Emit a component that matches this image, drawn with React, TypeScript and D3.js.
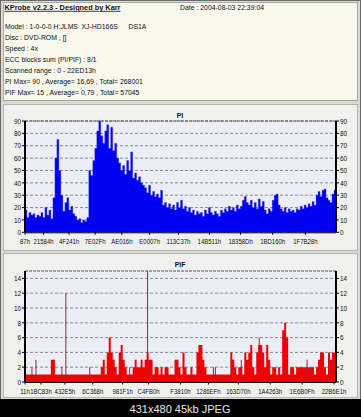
import React from "react";
import * as d3 from "d3";

// ---------- DATA ----------
const titleText = "KProbe v2.2.3 - Designed by Karr";
const dateText = "Date : 2004-08-03 22:39:04";
const modelParts = ["Model : 1-0-0-0 H:JLMS", "XJ-HD166S", "DS1A"];
const infoLines = [
  "Disc : DVD-ROM , []",
  "Speed : 4x",
  "ECC blocks sum (PI/PIF) : 8/1",
  "Scanned range : 0 - 22ED13h",
  "PI Max= 90 , Average= 16,69 , Total= 268001",
  "PIF Max= 15 , Average= 0,79 , Total= 57045",
];
const caption = "431x480 45kb JPEG";

const piValues = [
  18, 12, 16, 14, 15, 12, 14, 13, 16, 12, 20, 14, 18, 11, 28, 60, 75, 50, 30, 17,
  24, 28, 18, 21, 15, 13, 10, 11, 8, 10, 9, 12, 50, 46, 58, 68, 82, 90, 78, 72,
  82, 87, 68, 85, 66, 72, 60, 56, 50, 54, 47, 58, 50, 65, 44, 48, 42, 45, 40, 38,
  36, 32, 38, 30, 33, 29, 31, 28, 34, 22, 24, 20, 23, 19, 22, 18, 24, 20, 26, 19,
  21, 17, 20, 16, 18, 14, 17, 15, 16, 13, 18, 15, 20, 16, 14, 17, 15, 13, 18, 16,
  19, 17, 21, 18, 20, 17, 22, 19, 21, 26, 29, 24, 22, 26, 20, 24, 19, 27, 21, 25,
  18, 15, 19, 17, 26, 30, 31, 22, 19, 17, 20, 16, 19, 17, 18, 16, 19, 18, 21, 19,
  22, 20, 23, 21, 25, 22, 30, 33, 29, 34, 35, 28, 26, 24, 31, 34,
];

const pifValues = [
  1, 1, 1, 1, 1, 1, 1, 1, 1, 1, 1, 1, 1, 3, 3, 1, 1, 1, 1, 1,
  1, 1, 1, 1, 1, 1, 1, 1, 1, 1, 1, 1, 1, 1, 1, 1, 1, 1, 2, 3,
  1, 4, 6, 4, 3, 2, 1, 4, 5, 3, 2, 1, 1, 1, 2, 3, 2, 2, 3, 2,
  3, 4, 3, 3, 1, 2, 2, 1, 2, 1, 2, 2, 1, 1, 1, 3, 3, 2, 1, 4,
  2, 1, 1, 2, 1, 1, 4, 5, 5, 3, 2, 1, 1, 1, 1, 1, 1, 1, 1, 1,
  1, 1, 1, 4, 3, 2, 1, 2, 2, 1, 4, 3, 4, 5, 2, 1, 4, 5, 5, 4,
  2, 5, 3, 1, 2, 2, 1, 2, 1, 7, 8, 6, 1, 2, 2, 1, 2, 2, 2, 2,
  2, 2, 2, 2, 2, 1, 2, 3, 4, 4, 2, 1, 4, 3, 4, 4,
];

const pifSpikeIdx = [3, 5, 18, 20, 32, 52, 61, 94, 95, 108, 117, 141];
const pifSpikeVal = [2, 3, 2, 12, 2, 2, 15, 2, 2, 3, 6, 3];

const scanEnd = 0x22ed13;
const piTickLabels = ["87h", "21584h", "4F241h", "7E02Fh", "AE016h", "E0007h", "113C37h", "14B511h", "18358Dh", "1BD160h", "1F7B28h"];
const piTickAddr = [0x87, 0x21584, 0x4f241, 0x7e02f, 0xae016, 0xe0007, 0x113c37, 0x14b511, 0x18358d, 0x1bd160, 0x1f7b28];
const pifTickLabels = ["11h", "1BC83h", "432E5h", "6C368h", "981F1h", "C4FB0h", "F3810h", "1286EFh", "163D70h", "1A4263h", "1E6B0Fh", "22B6E1h"];
const pifTickIdx = [0, 8, 20, 34, 49, 62, 78, 92, 107, 123, 139, 155];
const piYTicks = [0, 10, 20, 30, 40, 50, 60, 70, 80, 90];
const pifYTicks = [0, 2, 4, 6, 8, 10, 12, 14];

// ---------- LAYOUT ----------
const W = 361;
const H = 417;
const FONT = "'Liberation Sans', Arial, sans-serif";
const PL = 25;
const PR = 336;

function T({ x, y, sx = 0.86, size = 8, anchor = "start", bold = false, underline = false, fill = "#111", children }: any) {
  return (
    <text
      transform={`translate(${x},${y}) scale(${sx},1)`}
      textAnchor={anchor}
      fontSize={size}
      fontWeight={bold ? "bold" : "normal"}
      textDecoration={underline ? "underline" : undefined}
      fontFamily={FONT}
      fill={fill}
    >
      {children}
    </text>
  );
}

function Axes({ y, ticks, top, bottom }: any) {
  return (
    <g>
      {ticks.filter((t: number) => t > 0).map((t: number) => (
        <line key={"g" + t} x1={PL} x2={PR} y1={y(t)} y2={y(t)} stroke="#8a8a8a" strokeWidth={1} strokeDasharray="3,2" />
      ))}
      <line x1={PL} x2={PR} y1={top} y2={top} stroke="#555" strokeWidth={1} strokeDasharray="3,1" />
      {ticks.map((t: number) => (
        <g key={"t" + t}>
          <line x1={PL - 3} x2={PL} y1={y(t)} y2={y(t)} stroke="#000" />
          <line x1={PR} x2={PR + 3} y1={y(t)} y2={y(t)} stroke="#000" />
          <T x={PL - 4} y={y(t) + 2.7} size={7.5} sx={0.85} anchor="end">{t}</T>
          <T x={PR + 4} y={y(t) + 2.7} size={7.5} sx={0.85} anchor="start">{t}</T>
        </g>
      ))}
    </g>
  );
}

export default function App() {
  const piTop = 121;
  const piBottom = 232.3;
  const piY = d3.scaleLinear().domain([0, 90]).range([piBottom, piTop]);
  const piX = d3.scaleLinear().domain([0, piValues.length]).range([PL, PR]);
  const piAddr = d3.scaleLinear().domain([0, scanEnd]).range([PL, PR]);

  const pifTop = 271;
  const pifBottom = 382;
  const pifY = d3.scaleLinear().domain([0, 15]).range([pifBottom, pifTop]);
  const pifX = d3.scaleLinear().domain([0, pifValues.length]).range([PL, PR]);

  const piArea = d3
    .area<number>()
    .x((_, i) => piX(i))
    .y0(piBottom)
    .y1((d) => piY(d))
    .curve(d3.curveStepAfter);
  const piPts = [...piValues, piValues[piValues.length - 1]];

  const pifArea = d3
    .area<number>()
    .x((_, i) => pifX(i))
    .y0(pifBottom)
    .y1((d) => pifY(d))
    .curve(d3.curveStepAfter);
  const pifPts = [...pifValues, pifValues[pifValues.length - 1]];

  const lineGap = 10.95;

  return (
    <div style={{ position: "absolute", left: 0, top: 0 }}>
      <svg width={W} height={H} style={{ display: "block" }}>
        <rect x={0} y={0} width={W} height={H} fill="#d9d9d6" />
        <rect x={0.5} y={0.5} width={W - 1} height={H - 1} fill="none" stroke="#6a6a6a" />
        {/* Header panel */}
        <rect x={3.5} y={2.5} width={354} height={98} fill="#f8f8ec" stroke="#a8a8a0" />
        <T x={4.5} y={9.8} bold underline sx={0.92}>{titleText}</T>
        <T x={180} y={9.8}>{dateText}</T>
        <T x={5} y={29.4}>{modelParts[0]}</T>
        <T x={81.5} y={29.4}>{modelParts[1]}</T>
        <T x={128.5} y={29.4}>{modelParts[2]}</T>
        {infoLines.map((l, i) => (
          <T key={l} x={5} y={29.4 + (i + 1) * lineGap}>{l}</T>
        ))}

        {/* PI panel */}
        <rect x={3.5} y={104.5} width={354} height={146} fill="#f0f0ee" stroke="#b4b4b0" />
        <T x={180} y={117.5} anchor="middle" bold>PI</T>
        <rect x={PL} y={piTop} width={PR - PL} height={piBottom - piTop} fill="#ededf8" />
        <Axes y={piY} ticks={piYTicks} top={piTop} bottom={piBottom} />
        <path d={piArea(piPts) || ""} fill="#0000f2" stroke="#4a4ad8" strokeWidth={0.4} />
        <line x1={PL} x2={PL} y1={piTop} y2={piBottom} stroke="#000" strokeWidth={2} />
        <line x1={PR} x2={PR} y1={piTop} y2={piBottom} stroke="#000" strokeWidth={2} />
        <line x1={PL} x2={PR} y1={piBottom + 0.5} y2={piBottom + 0.5} stroke="#000" />
        {piTickAddr.map((a, i) => (
          <g key={piTickLabels[i]}>
            <line x1={piAddr(a)} x2={piAddr(a)} y1={piBottom} y2={piBottom + 2.5} stroke="#000" />
            <T x={piAddr(a)} y={244} anchor="middle" size={7.5} sx={0.8}>{piTickLabels[i]}</T>
          </g>
        ))}

        {/* PIF panel */}
        <rect x={3.5} y={253.5} width={354} height={144} fill="#f0f0ee" stroke="#b4b4b0" />
        <T x={180} y={267} anchor="middle" bold>PIF</T>
        <rect x={PL} y={pifTop} width={PR - PL} height={pifBottom - pifTop} fill="#ededf8" />
        <Axes y={pifY} ticks={pifYTicks} top={pifTop} bottom={pifBottom} />
        <path d={pifArea(pifPts) || ""} fill="#f00000" />
        {pifSpikeIdx.map((s, k) => (
          <line key={"s" + k} x1={pifX(s + 0.5)} x2={pifX(s + 0.5)} y1={pifBottom} y2={pifY(pifSpikeVal[k])} stroke="#8a2b3b" strokeWidth={1} />
        ))}
        <line x1={PL} x2={PL} y1={pifTop} y2={pifBottom} stroke="#000" strokeWidth={2} />
        <line x1={PR} x2={PR} y1={pifTop} y2={pifBottom} stroke="#000" strokeWidth={2} />
        <line x1={PL} x2={PR} y1={pifBottom + 0.5} y2={pifBottom + 0.5} stroke="#000" />
        {pifTickIdx.map((t, i) => (
          <g key={pifTickLabels[i]}>
            <line x1={pifX(t)} x2={pifX(t)} y1={pifBottom} y2={pifBottom + 2.5} stroke="#000" />
            <T x={pifX(t)} y={393.5} anchor="middle" size={7.5} sx={0.8}>{pifTickLabels[i]}</T>
          </g>
        ))}

        {/* caption band */}
        <rect x={0} y={399} width={W} height={H - 399} fill="#000" />
        <text x={180} y={413} textAnchor="middle" fontSize={11} fontFamily={FONT} fill="#e8e8e8">{caption}</text>
      </svg>
    </div>
  );
}
